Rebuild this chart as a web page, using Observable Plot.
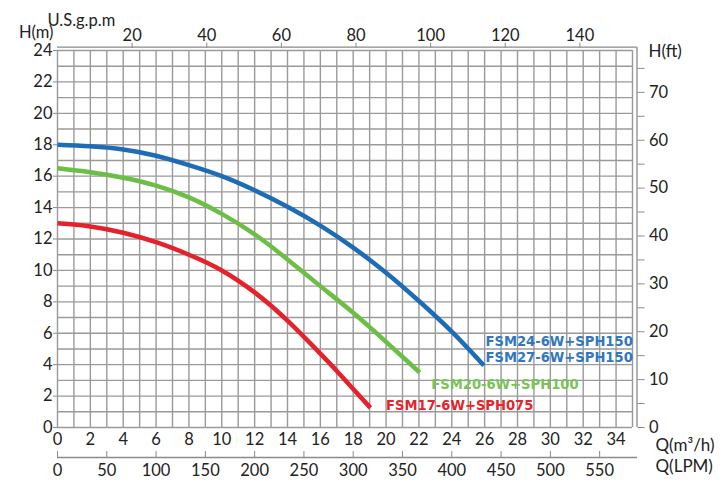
<!DOCTYPE html>
<html>
<head>
<meta charset="utf-8">
<script src="https://cdn.jsdelivr.net/npm/d3@7"></script>
<script src="https://cdn.jsdelivr.net/npm/@observablehq/plot@0.6"></script>
<style>
  html, body { margin: 0; padding: 0; background: #fff; }
  #chart svg { display: block; }
</style>
</head>
<body>
<div id="chart"></div>
<script>
// ---- tick values ----
const qTicks   = [0, 2, 4, 6, 8, 10, 12, 14, 16, 18, 20, 22, 24, 26, 28, 30, 32, 34]; // m3/h
const lpmTicks = [0, 50, 100, 150, 200, 250, 300, 350, 400, 450, 500, 550];           // L/min
const gpmTicks = [20, 40, 60, 80, 100, 120, 140];                                        // US gpm
const hTicks   = [0, 2, 4, 6, 8, 10, 12, 14, 16, 18, 20, 22, 24];                        // m
const ftTicks  = [0, 5, 10, 15, 20, 25, 30, 35, 40, 45, 50, 55, 60, 65, 70, 75];         // ft

// ---- unit conversions ----
const LPM_TO_M3H = 0.06;
const GPM_TO_M3H = 0.2271247;
const FT_TO_M = 0.3048;

// ---- series (Q in m3/h, H in m) ----
const seriesNames = ["FSM24-6W+SPH150 / FSM27-6W+SPH150", "FSM20-6W+SPH100", "FSM17-6W+SPH075"];
const qBlue  = [0, 2, 4, 6, 8, 10, 12, 14, 16, 18, 20, 22, 24, 25.95];
const hBlue  = [18, 17.9, 17.7, 17.3, 16.7, 16.0, 15.1, 14.05, 12.85, 11.45, 9.85, 8.05, 6.1, 3.95];
const qGreen = [0, 2, 4, 6, 8, 10, 12, 14, 16, 18, 20, 22.05];
const hGreen = [16.5, 16.25, 15.9, 15.4, 14.65, 13.6, 12.3, 10.7, 9.0, 7.3, 5.45, 3.5];
const qRed   = [0, 2, 4, 6, 8, 10, 12, 14, 16, 17, 18, 19.05];
const hRed   = [13.0, 12.8, 12.4, 11.8, 11.0, 10.0, 8.6, 6.8, 4.7, 3.6, 2.45, 1.25];

// ---- curve labels ----
const labelTexts = ["FSM24-6W+SPH150", "FSM27-6W+SPH150", "FSM20-6W+SPH100", "FSM17-6W+SPH075"];
const labelQ = [26.05, 26.05, 22.75, 20.0];
const labelH = [5.47, 4.45, 2.78, 1.4];

const C_BLUE = "#1f6cb6", C_GREEN = "#6cbf45", C_RED = "#e5212b";
const L_BLUE = "#3178c0", L_GREEN = "#79c257", L_RED = "#e3252d";
const GRID = "#9a9a9a";
const AX = "#8a8a8a";
const FONT = "Lato, 'Open Sans', sans-serif";

const toRows = (qs, hs) => qs.map((q, i) => ({q, h: hs[i]}));
const blueRows = toRows(qBlue, hBlue);
const greenRows = toRows(qGreen, hGreen);
const redRows = toRows(qRed, hRed);
const labelRows = labelTexts.map((t, i) => ({t, q: labelQ[i], h: labelH[i], c: [L_BLUE, L_BLUE, L_GREEN, L_RED][i]}));

const chart = Plot.plot({
  width: 726,
  height: 494,
  marginLeft: 57,
  marginRight: 94,
  marginTop: 50,
  marginBottom: 67,
  style: {fontFamily: FONT, fontSize: "16px", color: "#222", background: "#fff", overflow: "visible"},
  x: {domain: [0, 35]},
  y: {domain: [0, 24]},
  marks: [
    // grid
    Plot.gridX(d3.range(0, 36), {stroke: GRID, strokeOpacity: 1, strokeWidth: 1.4}),
    Plot.gridY(d3.range(0, 25), {stroke: GRID, strokeOpacity: 1, strokeWidth: 1.4}),

    // left axis (m)
    Plot.axisY({anchor: "left", ticks: hTicks, tickSize: 4, tickPadding: 1, stroke: AX, label: null, fontSize: 16.5}),

    // bottom axis (m3/h)
    Plot.axisX({anchor: "bottom", ticks: qTicks, tickSize: 0, tickPadding: 6, label: null, fontSize: 16.5}),

    // LPM axis
    Plot.ruleY([0], {dy: 30, stroke: AX, strokeWidth: 1.3, insetRight: -5}),
    Plot.axisX({anchor: "bottom", ticks: lpmTicks.map(d => d * LPM_TO_M3H), tickSize: 6, dy: 24, fill: "none", stroke: AX, label: null}),
    Plot.axisX({anchor: "bottom", ticks: lpmTicks.map(d => d * LPM_TO_M3H), tickSize: 0, tickPadding: 7, dy: 30, label: null, fontSize: 16.5,
      tickFormat: d => Math.round(d / LPM_TO_M3H)}),

    // top axis (US gpm)
    Plot.ruleY([24], {dy: -3.3, stroke: AX, strokeWidth: 1.3, insetRight: -4.5}),
    Plot.axisX({anchor: "top", ticks: gpmTicks.map(d => d * GPM_TO_M3H), tickSize: 5, tickPadding: 1, dy: -3.3, stroke: AX, label: null, fontSize: 16.5,
      tickFormat: d => Math.round(d / GPM_TO_M3H)}),

    // right axis (ft)
    Plot.ruleX([35], {dx: 4.5, stroke: AX, strokeWidth: 1.3, insetTop: -3.3}),
    Plot.axisY({anchor: "right", ticks: ftTicks.map(d => d * FT_TO_M), tickSize: 7, tickPadding: 5, dx: 4.5, stroke: AX, label: null, fontSize: 16.5,
      tickFormat: d => { const f = Math.round(d / FT_TO_M); return f % 10 === 0 ? f : ""; }}),

    // axis titles
    Plot.text(["U.S.g.p.m"], {frameAnchor: "top-left", textAnchor: "start", lineAnchor: "middle", dx: -10, dy: -30, fontSize: 16.5}),
    Plot.text(["H(m)"], {frameAnchor: "top-left", textAnchor: "end", lineAnchor: "middle", dx: -4, dy: -18, fontSize: 16.5}),
    Plot.text(["H(ft)"], {frameAnchor: "top-right", textAnchor: "start", lineAnchor: "middle", dx: 16, dy: 1, fontSize: 17}),
    Plot.text(["Q(m³/h)"], {frameAnchor: "bottom-right", textAnchor: "start", lineAnchor: "middle", dx: 23, dy: 18, fontSize: 17}),
    Plot.text(["Q(LPM)"], {frameAnchor: "bottom-right", textAnchor: "start", lineAnchor: "middle", dx: 23, dy: 39, fontSize: 17}),

    // curves
    Plot.line(blueRows, {x: "q", y: "h", stroke: C_BLUE, strokeWidth: 4.5, curve: "natural", strokeLinecap: "butt"}),
    Plot.line(greenRows, {x: "q", y: "h", stroke: C_GREEN, strokeWidth: 4.5, curve: "natural", strokeLinecap: "butt"}),
    Plot.line(redRows, {x: "q", y: "h", stroke: C_RED, strokeWidth: 4.5, curve: "natural", strokeLinecap: "butt"}),

    // curve labels
    Plot.text(labelRows, {x: "q", y: "h", text: "t", fill: "c", textAnchor: "start", fontWeight: "bold", fontSize: 14.6,
      fontFamily: "'DejaVu Sans Condensed', 'DejaVu Sans', sans-serif"})
  ]
});
document.getElementById("chart").appendChild(chart);
</script>
</body>
</html>
